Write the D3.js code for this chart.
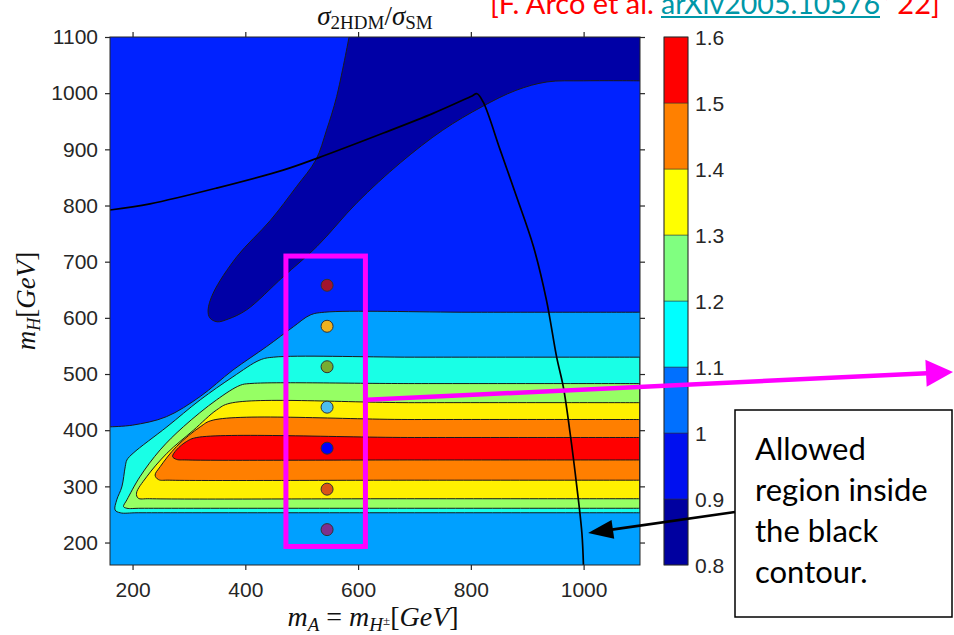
<!DOCTYPE html>
<html>
<head>
<meta charset="utf-8">
<script src="https://cdn.jsdelivr.net/npm/d3@7"></script>
<style>
  body { margin: 0; background: #fff; }
  svg { display: block; }
</style>
</head>
<body>
<svg id="chart" width="954" height="635"></svg>
<script>
// ---- cross-section ratio levels and colours ----
const levels = [0.8, 0.9, 1.0, 1.1, 1.2, 1.3, 1.4, 1.5, 1.6];
const levelLabels = ["0.8", "0.9", "1", "1.1", "1.2", "1.3", "1.4", "1.5", "1.6"];
const fillColors = ["#0000a6", "#0022ff", "#00a0ff", "#19ffe6", "#96ff64", "#fff000", "#ff7f00", "#ff0000"];
const barColors  = ["#0000a0", "#0010f0", "#0070ff", "#00ffff", "#80ff80", "#ffff00", "#ff8000", "#ff0000"];

// ---- axes ----
const xDomain = [160, 1100];
const yDomain = [160, 1100];
const xTicks = [200, 400, 600, 800, 1000];
const yTicks = [200, 300, 400, 500, 600, 700, 800, 900, 1000, 1100];

// ---- contour boundaries, [m_A, m_H] in GeV ----
// 1.0 contour: upper region (ratio < 1) lies above it
const edge10 = [[160,406],[200,409],[260,424],[320,460],[378,507],[438,549],[485,584],[515,605],[540,610],[800,610],[1100,610]];
// 0.9 contour: the deep-blue trough
const edge09 = [[1100,1022],[1000,1022],[935,1020],[880,1005],[820,976],[750,934],[675,876],[598,805],[527,727],[467,673],[402,614],[370,598],[350,593],[337,600],[334,614],[343,644],[385,709],[444,773],[491,834],[525,881],[544,934],[562,994],[584,1100]];
// closed bands, ratio above the level inside
const edge11 = [[1100,530],[700,530],[450,530],[426,525],[378,495],[320,454],[261,406],[201,359],[190,347],[187,335],[181,299],[172,276],[169,258],[178,253],[210,253],[700,253],[1100,253]];
const edge12 = [[1100,483],[700,483],[408,483],[391,480],[349,454],[290,406],[249,365],[213,317],[190,276],[184,264],[190,261],[215,261],[700,261],[1100,261]];
const edge13 = [[1100,449],[700,449],[373,448],[349,436],[308,400],[261,359],[225,317],[207,288],[210,279],[230,278],[700,278],[1100,278]];
const edge14 = [[1100,419],[700,419],[343,418],[320,406],[278,371],[249,335],[240,320],[246,312],[265,311],[700,311],[1100,311]];
const edge15 = [[1100,387],[700,387],[314,387],[296,380],[278,365],[271,353],[278,348],[295,347],[700,347],[1100,347]];

// allowed-parameter contour
const allowedContour = [[160,792],[231,803],[349,831],[467,863],[527,884],[645,929],[733,964],[800,994],[811,999],[822,984],[852,899],[881,816],[911,727],[934,632],[952,531],[964,477],[976,395],[988,299],[997,216],[1000,150]];

// benchmark points
const benchmarkMA = 545;
const benchmarkMH = [658, 585, 513, 441, 368, 295, 223];
const benchmarkColors = ["#a2142f", "#edb120", "#77ac30", "#4dbeee", "#0000ff", "#d95319", "#7e2f8e"];
const benchmarkBox = { mA: [472, 613], mH: [193, 710] };

// ---- layout ----
const plot = { left: 110, right: 640, top: 37, bottom: 565 };
const bar = { left: 664, right: 688 };
const axisColor = "#262626";
const sans = "'Liberation Sans', Arial, sans-serif";
const serif = "'Liberation Serif', 'Times New Roman', serif";

const svg = d3.select("#chart");
const x = d3.scaleLinear().domain(xDomain).range([plot.left, plot.right]);
const y = d3.scaleLinear().domain(yDomain).range([plot.bottom, plot.top]);

const curve = d3.line()
  .x(d => x(d[0])).y(d => y(d[1]))
  .curve(d3.curveCatmullRom.alpha(0.5));
const closeAlong = pts => pts.map(p => `L${x(p[0])},${y(p[1])}`).join("");

svg.append("defs").append("clipPath").attr("id", "plotClip")
  .append("rect")
  .attr("x", plot.left).attr("y", plot.top)
  .attr("width", plot.right - plot.left).attr("height", plot.bottom - plot.top);

const area = svg.append("g").attr("clip-path", "url(#plotClip)");

// background band 1.0 - 1.1
area.append("rect")
  .attr("x", plot.left).attr("y", plot.top)
  .attr("width", plot.right - plot.left).attr("height", plot.bottom - plot.top)
  .attr("fill", fillColors[2]);

const regions = [
  { edge: edge10, close: [[1100,1100],[160,1100]], color: fillColors[1] },
  { edge: edge09, close: [[1100,1100]], color: fillColors[0] },
  { edge: edge11, close: [], color: fillColors[3] },
  { edge: edge12, close: [], color: fillColors[4] },
  { edge: edge13, close: [], color: fillColors[5] },
  { edge: edge14, close: [], color: fillColors[6] },
  { edge: edge15, close: [], color: fillColors[7] }
];

regions.forEach(r => {
  area.append("path")
    .attr("d", curve(r.edge) + closeAlong(r.close) + "Z")
    .attr("fill", r.color);
});
regions.forEach(r => {
  area.append("path")
    .attr("d", curve(r.edge) + (r.close.length ? "" : "Z"))
    .attr("fill", "none")
    .attr("stroke", "#1a1a1a")
    .attr("stroke-width", 1);
});

// allowed region boundary
area.append("path")
  .attr("d", curve(allowedContour))
  .attr("fill", "none")
  .attr("stroke", "#000")
  .attr("stroke-width", 1.7);

// benchmark points
area.selectAll("circle.bp")
  .data(benchmarkMH)
  .join("circle")
  .attr("class", "bp")
  .attr("cx", x(benchmarkMA))
  .attr("cy", d => y(d))
  .attr("r", 6)
  .attr("fill", (d, i) => benchmarkColors[i])
  .attr("stroke", "#333")
  .attr("stroke-width", 1);

// ---- axes ----
const gx = svg.append("g").attr("transform", `translate(0,${plot.bottom})`)
  .call(d3.axisBottom(x).tickValues(xTicks).tickFormat(d3.format("d")).tickSize(5).tickSizeOuter(0).tickPadding(12));
const gxTop = svg.append("g").attr("transform", `translate(0,${plot.top})`)
  .call(d3.axisTop(x).tickValues(xTicks).tickFormat("").tickSize(5).tickSizeOuter(0));
const gy = svg.append("g").attr("transform", `translate(${plot.left},0)`)
  .call(d3.axisLeft(y).tickValues(yTicks).tickFormat(d3.format("d")).tickSize(5).tickSizeOuter(0).tickPadding(7));
const gyRight = svg.append("g").attr("transform", `translate(${plot.right},0)`)
  .call(d3.axisRight(y).tickValues(yTicks).tickFormat("").tickSize(5).tickSizeOuter(0));

[gx, gxTop, gy, gyRight].forEach(g => {
  g.attr("font-family", sans).attr("font-size", 21);
  g.select(".domain").remove();
  g.selectAll("line").attr("stroke", axisColor).attr("stroke-width", 1.2);
  g.selectAll("text").attr("fill", axisColor);
});

svg.append("rect")
  .attr("x", plot.left).attr("y", plot.top)
  .attr("width", plot.right - plot.left).attr("height", plot.bottom - plot.top)
  .attr("fill", "none").attr("stroke", axisColor).attr("stroke-width", 1);

// ---- colour bar ----
const cy = d3.scaleLinear().domain([levels[0], levels[levels.length - 1]]).range([plot.bottom, plot.top]);
const cbar = svg.append("g");
cbar.selectAll("rect.band")
  .data(barColors)
  .join("rect")
  .attr("class", "band")
  .attr("x", bar.left)
  .attr("width", bar.right - bar.left)
  .attr("y", (d, i) => cy(levels[i + 1]))
  .attr("height", (d, i) => cy(levels[i]) - cy(levels[i + 1]))
  .attr("fill", d => d)
  .attr("stroke", "#333")
  .attr("stroke-width", 0.5);
cbar.append("rect")
  .attr("x", bar.left).attr("y", plot.top)
  .attr("width", bar.right - bar.left).attr("height", plot.bottom - plot.top)
  .attr("fill", "none").attr("stroke", axisColor).attr("stroke-width", 0.8);
cbar.selectAll("text")
  .data(levels)
  .join("text")
  .attr("x", bar.right + 7)
  .attr("y", d => cy(d))
  .attr("dy", "0.36em")
  .attr("font-family", sans)
  .attr("font-size", 21)
  .attr("fill", axisColor)
  .text((d, i) => levelLabels[i]);

// ---- titles ----
const title = svg.append("text")
  .attr("x", 375)
  .attr("y", 25)
  .attr("text-anchor", "middle")
  .attr("font-family", serif)
  .attr("font-size", 27)
  .attr("fill", "#111");
title.append("tspan").attr("font-style", "italic").text("σ");
title.append("tspan").attr("font-size", 19).attr("dy", 4).text("2HDM");
title.append("tspan").attr("dy", -4).text("/");
title.append("tspan").attr("font-style", "italic").text("σ");
title.append("tspan").attr("font-size", 19).attr("dy", 4).text("SM");

const xLabel = svg.append("text")
  .attr("x", 373)
  .attr("y", 626)
  .attr("text-anchor", "middle")
  .attr("font-family", serif)
  .attr("font-size", 28)
  .attr("fill", "#111");
xLabel.append("tspan").attr("font-style", "italic").text("m");
xLabel.append("tspan").attr("font-style", "italic").attr("font-size", 19).attr("dy", 5).text("A");
xLabel.append("tspan").attr("dy", -5).text(" = ");
xLabel.append("tspan").attr("font-style", "italic").text("m");
xLabel.append("tspan").attr("font-style", "italic").attr("font-size", 19).attr("dy", 5).text("H");
xLabel.append("tspan").attr("font-size", 13).attr("dy", -6).text("±");
xLabel.append("tspan").attr("dy", 1).text("[");
xLabel.append("tspan").attr("font-style", "italic").text("GeV");
xLabel.append("tspan").text("]");

const yLabel = svg.append("text")
  .attr("transform", `translate(35,${(plot.top + plot.bottom) / 2}) rotate(-90)`)
  .attr("text-anchor", "middle")
  .attr("font-family", serif)
  .attr("font-size", 27)
  .attr("fill", "#111");
yLabel.append("tspan").attr("font-style", "italic").text("m");
yLabel.append("tspan").attr("font-style", "italic").attr("font-size", 18).attr("dy", 5).text("H");
yLabel.append("tspan").attr("dy", -5).text("[");
yLabel.append("tspan").attr("font-style", "italic").text("GeV");
yLabel.append("tspan").text("]");

// ---- benchmark frame ----
svg.append("rect")
  .attr("x", x(benchmarkBox.mA[0]))
  .attr("y", y(benchmarkBox.mH[1]))
  .attr("width", x(benchmarkBox.mA[1]) - x(benchmarkBox.mA[0]))
  .attr("height", y(benchmarkBox.mH[0]) - y(benchmarkBox.mH[1]))
  .attr("fill", "none")
  .attr("stroke", "#ff00ff")
  .attr("stroke-width", 5);

// ---- callouts ----
function arrow(from, to, width, headLen, headHalf, color) {
  const dx = to[0] - from[0], dy = to[1] - from[1];
  const len = Math.hypot(dx, dy);
  const ux = dx / len, uy = dy / len;
  const bx = to[0] - ux * headLen, by = to[1] - uy * headLen;
  svg.append("line")
    .attr("x1", from[0]).attr("y1", from[1])
    .attr("x2", bx + ux * 1).attr("y2", by + uy * 1)
    .attr("stroke", color).attr("stroke-width", width);
  svg.append("path")
    .attr("d", `M${to[0]},${to[1]}L${bx - uy * headHalf},${by + ux * headHalf}L${bx + uy * headHalf},${by - ux * headHalf}Z`)
    .attr("fill", color);
}

// magenta pointer from the benchmark frame
arrow([x(benchmarkBox.mA[1]) + 2, y(454)], [953, 372], 4.5, 27, 13.5, "#ff00ff");

// text box and pointer to the allowed boundary
const note = { x: 735, y: 410, w: 217, h: 207 };
svg.append("rect")
  .attr("x", note.x).attr("y", note.y).attr("width", note.w).attr("height", note.h)
  .attr("fill", "#fff").attr("stroke", "#000").attr("stroke-width", 1.5);
arrow([note.x, 512], [x(1008), y(217)], 2.6, 25, 9.5, "#000");

const noteLines = ["Allowed", "region inside", "the black", "contour."];
svg.append("g")
  .attr("font-family", "Lato, 'Open Sans', sans-serif")
  .attr("font-size", 31)
  .attr("fill", "#000")
  .selectAll("text")
  .data(noteLines)
  .join("text")
  .attr("x", note.x + 20)
  .attr("y", (d, i) => 460 + i * 41)
  .text(d => d);

// reference line at the top
const ref = svg.append("text")
  .attr("y", 14)
  .attr("font-family", "Lato, 'Open Sans', sans-serif")
  .attr("font-size", 29);
ref.append("tspan").attr("x", 490).attr("fill", "#ff0000").text("[F. Arco et al. ");
ref.append("tspan").attr("x", 661).attr("fill", "#0097a7")
  .attr("textLength", 219).attr("lengthAdjust", "spacingAndGlyphs").text("arXiv2005.10576");
ref.append("tspan").attr("x", 884).attr("fill", "#ff0000").text("\u2019 22]");
svg.append("line")
  .attr("x1", 661).attr("x2", 880).attr("y1", 17).attr("y2", 17)
  .attr("stroke", "#0097a7").attr("stroke-width", 2);
</script>
</body>
</html>
